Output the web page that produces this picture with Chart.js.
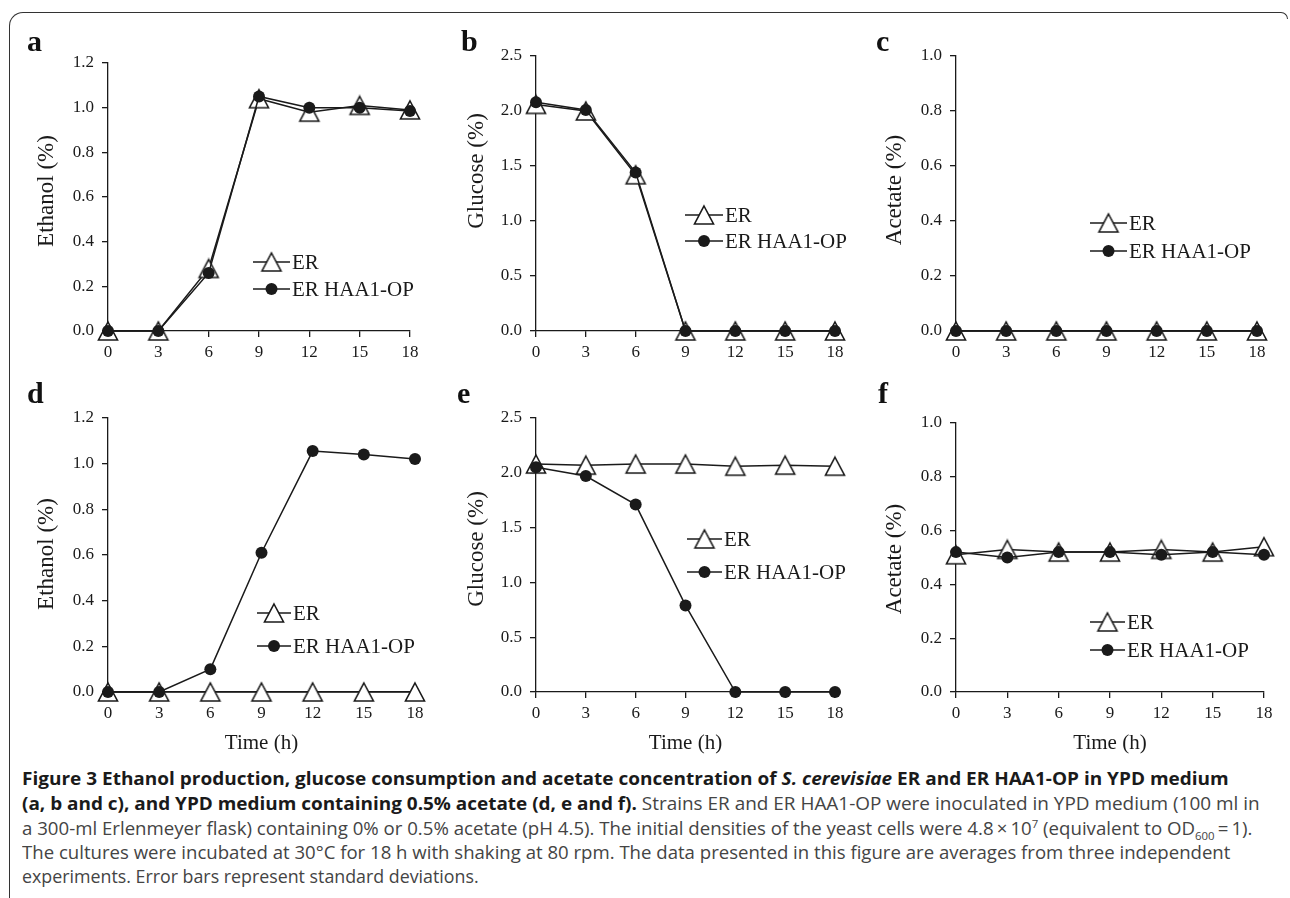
<!DOCTYPE html>
<html>
<head>
<meta charset="utf-8">
<script src="https://cdn.jsdelivr.net/npm/chart.js@4.4.1/dist/chart.umd.min.js"></script>
<style>
html,body{margin:0;padding:0;background:#fff;}
body{width:1290px;height:898px;position:relative;overflow:hidden;}
.frame{position:absolute;left:9px;top:12px;width:1270px;height:900px;border-left:1.5px solid #333;border-top:1.5px solid #333;border-top-left-radius:14px;}
.corner{position:absolute;left:1272px;top:12px;width:15px;height:6px;border-top:1.5px solid #333;border-right:1.5px solid #333;border-top-right-radius:8px;}
.panel{position:absolute;width:430px;height:380px;}
.letter{position:absolute;font-family:"Liberation Serif",serif;font-weight:bold;font-size:30px;color:#111;line-height:1;}
.cap{position:absolute;left:22px;white-space:nowrap;font-family:"Open Sans","Noto Sans",sans-serif;font-size:18px;line-height:24px;color:#444;transform-origin:0 50%;}
.cap b{color:#1a1a1a;}
.cap sup,.cap sub{font-size:11px;line-height:0;}
</style>
</head>
<body>
<div class="frame"></div>
<div class="corner"></div>

<div class="panel" style="left:0;top:0"><canvas id="chartA"></canvas></div>
<div class="panel" style="left:430px;top:0"><canvas id="chartB"></canvas></div>
<div class="panel" style="left:860px;top:0"><canvas id="chartC"></canvas></div>
<div class="panel" style="left:0;top:380px"><canvas id="chartD"></canvas></div>
<div class="panel" style="left:430px;top:380px"><canvas id="chartE"></canvas></div>
<div class="panel" style="left:860px;top:380px"><canvas id="chartF"></canvas></div>

<div class="letter" style="left:27px;top:26px">a</div>
<div class="letter" style="left:461px;top:26px">b</div>
<div class="letter" style="left:876px;top:26px">c</div>
<div class="letter" style="left:27px;top:378px">d</div>
<div class="letter" style="left:457px;top:378px">e</div>
<div class="letter" style="left:878px;top:378px">f</div>

<div class="cap" data-w="1207" style="top:766px"><b>Figure 3 Ethanol production, glucose consumption and acetate concentration of <i>S. cerevisiae</i> ER and ER HAA1-OP in YPD medium</b></div>
<div class="cap" data-w="1238" style="top:791px"><b>(a, b and c), and YPD medium containing 0.5% acetate (d, e and f).</b> Strains ER and ER HAA1-OP were inoculated in YPD medium (100 ml in</div>
<div class="cap" data-w="1230" style="top:816px">a 300-ml Erlenmeyer flask) containing 0% or 0.5% acetate (pH 4.5). The initial densities of the yeast cells were 4.8&thinsp;×&thinsp;10<sup>7</sup> (equivalent to OD<sub>600</sub>&thinsp;=&thinsp;1).</div>
<div class="cap" data-w="1208" style="top:840px">The cultures were incubated at 30°C for 18 h with shaking at 80 rpm. The data presented in this figure are averages from three independent</div>
<div class="cap" data-w="457" style="top:864px">experiments. Error bars represent standard deviations.</div>

<script>
const hours=[0,3,6,9,12,15,18];
const seriesNames=["ER","ER HAA1-OP"];

// YPD medium
const ethanolER=[0,0,0.28,1.04,0.98,1.01,0.99];
const ethanolHAA1=[0,0,0.26,1.05,1.00,1.00,0.985];
const glucoseER=[2.06,2.00,1.42,0,0,0,0];
const glucoseHAA1=[2.08,2.01,1.44,0,0,0,0];
const acetateER=[0,0,0,0,0,0,0];
const acetateHAA1=[0,0,0,0,0,0,0];

// YPD medium + 0.5% acetate
const ethanolAcER=[0,0,0,0,0,0,0];
const ethanolAcHAA1=[0,0,0.10,0.61,1.055,1.04,1.02];
const glucoseAcER=[2.08,2.07,2.08,2.08,2.06,2.07,2.06];
const glucoseAcHAA1=[2.05,1.97,1.71,0.79,0,0,0];
const acetateAcER=[0.51,0.53,0.52,0.52,0.53,0.52,0.54];
const acetateAcHAA1=[0.52,0.50,0.52,0.52,0.51,0.52,0.51];

const yTitles=["Ethanol (%)","Glucose (%)","Acetate (%)"];
const yMax=[1.2,2.5,1.0];
const yStep=[0.2,0.5,0.2];
const xTitle="Time (h)";

const INK="#1a1a1a";
const SERIF="'Liberation Serif', 'Times New Roman', serif";

/* open triangle marker */
const triangle=document.createElement("canvas");
triangle.width=24;
triangle.height=22;
(function(){
const t=triangle.getContext("2d");
t.beginPath();
t.moveTo(12,2);
t.lineTo(21.5,20);
t.lineTo(2.5,20);
t.closePath();
t.fillStyle="#fff";
t.fill();
t.lineWidth=1.6;
t.strokeStyle=INK;
t.stroke();
})();

/* legend inside the plot + rotated y title */
const panelText={
id:"panelText",
afterDatasetsDraw(chart,args,opts){
const ctx=chart.ctx;
chart.data.datasets.forEach((ds,i)=>{
const y=opts.rows[i];
const mx=(opts.x0+opts.x1)/2;
ctx.save();
ctx.strokeStyle=INK;
ctx.lineWidth=1.5;
ctx.beginPath();
ctx.moveTo(opts.x0,y);
ctx.lineTo(opts.x1,y);
ctx.stroke();
if(ds.pointStyle==="circle"){
ctx.fillStyle=INK;
ctx.beginPath();
ctx.arc(mx,y,6,0,Math.PI*2);
ctx.fill();
}else{
ctx.drawImage(triangle,mx-triangle.width/2,y-triangle.height/2);
}
ctx.fillStyle=INK;
ctx.font="21px "+SERIF;
ctx.textBaseline="middle";
ctx.fillText(ds.label,opts.x1+2,y+1);
ctx.restore();
});

ctx.save();
ctx.translate(opts.titleX,opts.titleY);
ctx.rotate(-Math.PI/2);
ctx.fillStyle=INK;
ctx.font="23px "+SERIF;
ctx.textAlign="center";
ctx.textBaseline="middle";
ctx.fillText(opts.title,0,0);
ctx.restore();
}
};

function pts(values){
return hours.map((h,i)=>({x:h,y:values[i]}));
}

function makePanel(id,kind,erValues,haaValues,box,legend,showX){
const W=430,H=380;
legend.title=yTitles[kind];
new Chart(document.getElementById(id),{
type:"line",
data:{
datasets:[{
label:seriesNames[0],
data:pts(erValues),
order:2,
borderColor:INK,
borderWidth:1.5,
pointStyle:triangle,
clip:false
},{
label:seriesNames[1],
data:pts(haaValues),
order:1,
borderColor:INK,
borderWidth:1.5,
pointStyle:"circle",
pointRadius:6,
pointBackgroundColor:INK,
pointBorderWidth:0,
clip:false
}]
},
options:{
responsive:true,
maintainAspectRatio:false,
animation:false,
events:[],
layout:{padding:{top:box.top,right:W-box.right,left:0,bottom:0}},
plugins:{
legend:{display:false},
tooltip:{enabled:false},
panelText:legend
},
scales:{
x:{
type:"linear",
min:0,max:18,
afterFit:s=>{s.height=H-box.bottom;},
afterBuildTicks:s=>{s.ticks=hours.map(v=>({value:v}));},
grid:{display:true,drawOnChartArea:false,drawTicks:true,tickLength:6,color:INK,lineWidth:1.3},
border:{display:true,color:INK,width:1.3},
ticks:{color:INK,padding:5,maxRotation:0,font:{family:SERIF,size:17}},
title:{display:showX,text:xTitle,color:INK,font:{family:SERIF,size:21},padding:{top:0,bottom:4}}
},
y:{
min:0,max:yMax[kind],
afterFit:s=>{s.width=box.left;},
afterBuildTicks:s=>{
const out=[];
for(let v=0;v<=yMax[kind]+1e-9;v+=yStep[kind]) out.push({value:Math.round(v*10)/10});
s.ticks=out;
},
grid:{display:true,drawOnChartArea:false,drawTicks:true,tickLength:6,color:INK,lineWidth:1.3},
border:{display:true,color:INK,width:1.3},
ticks:{color:INK,padding:8,font:{family:SERIF,size:17},callback:v=>Number(v).toFixed(1)}
}
}
},
plugins:[panelText]
});
}

function fitCaption(){
document.querySelectorAll(".cap[data-w]").forEach(el=>{
const s=Number(el.dataset.w)/el.scrollWidth;
el.style.transform="scaleX("+s+")";
});
}

document.fonts.load("17px 'Liberation Serif'").then(()=>document.fonts.ready).then(()=>{
makePanel("chartA",0,ethanolER,ethanolHAA1,{left:108,right:410,top:63,bottom:331},{x0:253,x1:290,rows:[262,289],titleX:47,titleY:191},false);
makePanel("chartB",1,glucoseER,glucoseHAA1,{left:106,right:405,top:56,bottom:331},{x0:255,x1:293,rows:[215,241],titleX:47,titleY:171},false);
makePanel("chartC",2,acetateER,acetateHAA1,{left:96,right:397,top:56,bottom:331},{x0:230,x1:267,rows:[223,251],titleX:35,titleY:190},false);
makePanel("chartD",0,ethanolAcER,ethanolAcHAA1,{left:108,right:415,top:38,bottom:312},{x0:257,x1:291,rows:[233,266],titleX:47,titleY:174},true);
makePanel("chartE",1,glucoseAcER,glucoseAcHAA1,{left:106,right:405,top:38,bottom:312},{x0:257,x1:292,rows:[159,192],titleX:47,titleY:169},true);
makePanel("chartF",2,acetateAcER,acetateAcHAA1,{left:96,right:404,top:43,bottom:312},{x0:230,x1:265,rows:[242,270],titleX:35,titleY:179},true);
fitCaption();
});
</script>
</body>
</html>
